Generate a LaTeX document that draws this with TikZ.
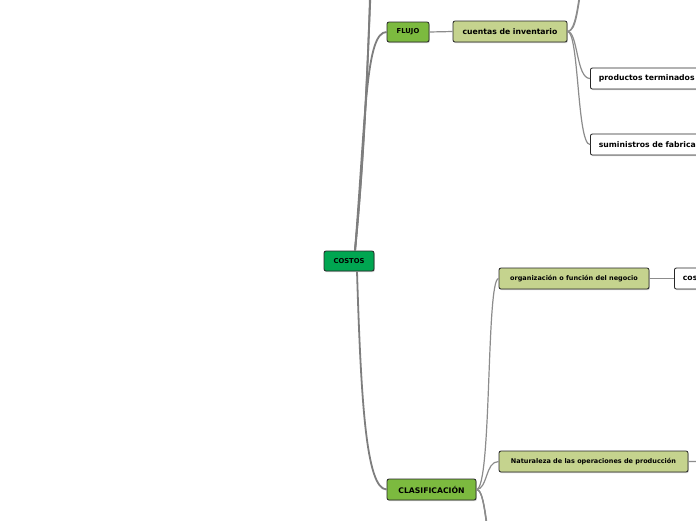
\documentclass[tikz,border=0pt]{standalone}
\usepackage{fontspec}
\setmainfont{DejaVu Sans}
\usepackage{xcolor}
\usetikzlibrary{shadows}

\definecolor{rootgreen}{RGB}{0,166,81}
\definecolor{mainlime}{RGB}{124,186,63}
\definecolor{subolive}{RGB}{197,211,142}
\definecolor{linkgray}{RGB}{140,140,140}

\begin{document}
\begin{tikzpicture}[x=1pt, y=-1pt,
  topic/.style={draw=black!85, line width=0.8pt, rounded corners=2pt, fill=#1,
    minimum height=21pt, inner sep=0pt, font=\bfseries\fontsize{7.7}{9}\selectfont,
    drop shadow={shadow xshift=0.8pt, shadow yshift=-1.2pt, opacity=.35}},
  small/.style={font=\bfseries\fontsize{6.5}{8}\selectfont},
  leaf/.style={topic=white, anchor=west, text width=#1, align=left, inner xsep=8.5pt},
  link/.style={draw=linkgray, line width=1.2pt},
  trunk/.style={draw=linkgray!90!black, line width=1.8pt},
]
\clip (0,0) rectangle (696,520);
\fill[white] (0,0) rectangle (696,520);

% main topics
\node[topic=rootgreen, minimum width=50pt, minimum height=20pt,
      font=\bfseries\fontsize{6.8}{8}\selectfont] (costos) at (349,261) {COSTOS};
\node[topic=mainlime, minimum width=42pt, minimum height=20pt,
      font=\bfseries\fontsize{6.8}{8}\selectfont] (flujo) at (408,32) {FLUJO};
\node[topic=mainlime, minimum width=89pt] (clasif) at (431.5,489.5) {CLASIFICACIÓN};

% sub topics
\node[topic=subolive, minimum width=114pt] (cuentas) at (510,31.5) {cuentas de inventario};
\node[topic=subolive, small, minimum width=150pt] (organiz) at (574,278.5)
  {organización o función del negocio};
\node[topic=subolive, small, minimum width=189pt] (natur) at (593.5,461.5)
  {Naturaleza de las operaciones de producción};

% leaves (cut by the border)
\node[leaf=140pt] (prod) at (590,78.5) {productos terminados};
\node[leaf=140pt] (sumin) at (590,144.5) {suministros de fabrica};
\node[leaf=60pt] (cosnode) at (674,278.5) {cos};

% free ends outside the view
\coordinate (top1) at (371,-40);
\coordinate (top2) at (375,-120);
\coordinate (cuup1) at (586,-40);
\coordinate (cuup2) at (592,-110);
\coordinate (cldown1) at (492,560);
\coordinate (cldown2) at (496,620);
\coordinate (cldown3) at (500,700);
\coordinate (natout) at (730,461);

% connectors
\draw[trunk] ([xshift=6pt]costos.north) .. controls (366,110) and (366,32) .. (flujo.west);
\draw[trunk] ([xshift=6pt]costos.north) .. controls (365,150) and (369,40) .. (top1);
\draw[trunk] ([xshift=6pt]costos.north) .. controls (366,140) and (370,0) .. (top2);
\draw[trunk] ([xshift=8pt]costos.south) .. controls (361,400) and (366,489) .. (clasif.west);

\draw[link] (flujo.east) -- (cuentas.west);
\draw[link] (cuentas.east) .. controls (577,31) and (577,10) .. (cuup1);
\draw[link] (cuentas.east) .. controls (579,31) and (580,-20) .. (cuup2);
\draw[link] (cuentas.east) .. controls (578,31) and (576,78.5) .. (prod.west);
\draw[link] (cuentas.east) .. controls (579,31) and (577,144.5) .. (sumin.west);

\draw[link] (organiz.east) -- (cosnode.west);
\draw[link] (clasif.east) .. controls (492,489) and (486,278.5) .. (organiz.west);
\draw[link] (clasif.east) .. controls (488,489) and (485,461.5) .. (natur.west);
\draw[link] (clasif.east) .. controls (484,489) and (486,520) .. (cldown1);
\draw[link] (clasif.east) .. controls (485,489) and (487,530) .. (cldown2);
\draw[link] (clasif.east) .. controls (486,489) and (489,540) .. (cldown3);
\draw[link] (natur.east) -- (natout);
\end{tikzpicture}
\end{document}
